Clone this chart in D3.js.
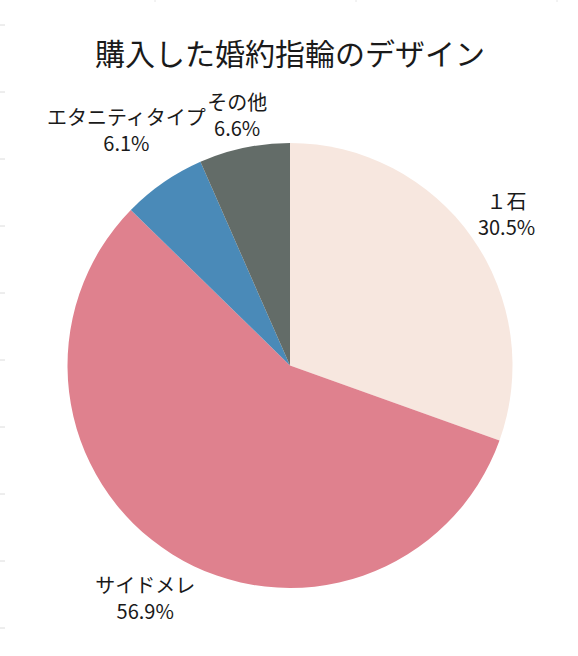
<!DOCTYPE html>
<html>
<head>
<meta charset="utf-8">
<script src="https://cdnjs.cloudflare.com/ajax/libs/d3/7.8.5/d3.min.js"></script>
<style>
  html, body { margin: 0; padding: 0; background: #fff; }
  svg text { font-family: "Noto Sans CJK JP", "Noto Sans", sans-serif; fill: #1a1a1a; }
</style>
</head>
<body>
<div id="chart"></div>
<script>
// data
var categories = ["１石", "サイドメレ", "エタニティタイプ", "その他"];
var shares = [30.5, 56.9, 6.1, 6.6];
var colors = ["#f7e7df", "#df818e", "#4a8ab8", "#636c68"];

window.onload = function () {
    var W = 578, H = 656;
    var svg = d3.select("#chart").append("svg")
        .attr("width", W)
        .attr("height", H);

    // faint edge ticks
    svg.append("g").selectAll("line")
        .data(d3.range(25, H, 67))
        .enter().append("line")
        .attr("x1", 0).attr("x2", 5)
        .attr("y1", function (d) { return d; })
        .attr("y2", function (d) { return d; })
        .attr("stroke", "#dcdcdc");
    svg.append("g").selectAll("line")
        .data(d3.range(155, W, 201))
        .enter().append("line")
        .attr("x1", function (d) { return d; })
        .attr("x2", function (d) { return d; })
        .attr("y1", 0).attr("y2", 2)
        .attr("stroke", "#e6e6e6");

    // title
    svg.append("text")
        .attr("x", 290)
        .attr("y", 65)
        .attr("text-anchor", "middle")
        .style("font-size", "30px")
        .text("購入した婚約指輪のデザイン");

    var cx = 290, cy = 365.5, r = 222.5;
    var g = svg.append("g").attr("transform", "translate(" + cx + "," + cy + ")");

    var rows = categories.map(function (c, i) {
        return { name: c, value: shares[i], color: colors[i] };
    });

    var pie = d3.pie().sort(null).value(function (d) { return d.value; });
    var arc = d3.arc().innerRadius(0).outerRadius(r);
    var arcs = pie(rows);

    g.selectAll("path.slice")
        .data(arcs)
        .enter().append("path")
        .attr("class", "slice")
        .attr("d", arc)
        .attr("fill", function (d) { return d.data.color; });

    // labels outside, nearest box corner just off the rim
    var fs = 20, lh = 26, gap = 4;
    var labels = g.selectAll("text.lbl")
        .data(arcs)
        .enter().append("text")
        .attr("class", "lbl")
        .attr("text-anchor", "middle")
        .style("font-size", fs + "px");

    labels.append("tspan")
        .attr("class", "l1")
        .attr("x", 0)
        .attr("dominant-baseline", "central")
        .text(function (d) { return d.data.name; });
    labels.append("tspan")
        .attr("class", "l2")
        .attr("x", 0)
        .attr("dominant-baseline", "central")
        .text(function (d) { return d.data.value.toFixed(1) + "%"; });

    labels.each(function (d) {
        var t = d3.select(this);
        var w = 0;
        t.selectAll("tspan").each(function () {
            w = Math.max(w, this.getComputedTextLength());
        });
        var h = lh * 2;
        var mid = (d.startAngle + d.endAngle) / 2;
        var ux = Math.sin(mid), uy = -Math.cos(mid);
        var a = (ux < 0 ? -1 : 1) * w / 2, b = (uy < 0 ? -1 : 1) * h / 2;
        var R = r + gap;
        var p = ux * a + uy * b;
        var dist = p + Math.sqrt(p * p - (a * a + b * b - R * R));
        var x = dist * ux, y = dist * uy;
        t.selectAll("tspan").attr("x", x);
        t.select(".l1").attr("y", y - lh / 2);
        t.select(".l2").attr("y", y + lh / 2);
    });
};
</script>
</body>
</html>
